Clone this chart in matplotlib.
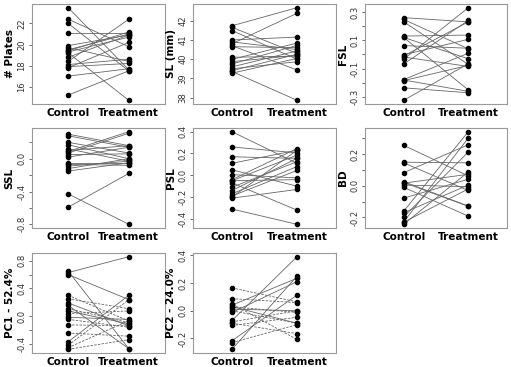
import matplotlib.pyplot as plt

plt.rcParams['axes.unicode_minus'] = False

# paired values, one entry per family: control -> treatment
plates_ctrl = [23.5, 22.4, 22.0, 21.1, 19.9, 19.7, 19.5, 19.3, 19.2, 18.8, 18.4, 18.1, 17.9, 17.8, 17.0, 15.2, 19.4]
plates_trt = [17.6, 19.8, 17.5, 21.1, 20.9, 18.4, 21.0, 20.7, 14.7, 20.9, 22.4, 18.6, 18.2, 20.2, 17.7, 17.5, 21.2]

sl_ctrl = [41.74, 41.66, 41.49, 41.0, 40.9, 40.8, 40.7, 40.65, 39.99, 39.87, 39.75, 39.6, 39.5, 39.4, 39.36, 39.27, 40.1]
sl_trt = [42.68, 40.3, 40.0, 41.15, 40.5, 42.39, 39.44, 40.6, 40.84, 40.2, 40.72, 40.43, 39.87, 40.26, 37.86, 40.04, 40.16]

fsl_ctrl = [0.26, 0.247, 0.23, 0.13, 0.12, 0.063, -0.002, -0.018, -0.033, -0.067, -0.177, -0.184, -0.18, -0.235, -0.323, 0.12, -0.01]
fsl_trt = [0.23, 0.04, -0.07, 0.137, -0.03, 0.044, 0.107, -0.084, 0.33, 0.24, 0.009, -0.077, -0.26, -0.27, -0.065, -0.25, 0.23]

ssl_ctrl = [0.30, 0.28, 0.20, 0.17, 0.12, 0.09, 0.07, 0.05, 0.02, -0.05, -0.07, -0.09, -0.12, -0.15, -0.43, -0.59, 0.10]
ssl_trt = [0.16, 0.14, 0.07, 0.0, -0.03, 0.33, 0.31, 0.06, 0.14, -0.05, -0.08, -0.03, 0.0, -0.05, -0.80, -0.18, 0.16]

psl_ctrl = [0.40, 0.26, 0.17, 0.11, 0.05, 0.006, -0.04, -0.05, -0.07, -0.11, -0.14, -0.17, -0.19, -0.21, -0.20, -0.31, -0.05]
psl_trt = [0.11, 0.206, 0.155, 0.23, -0.10, -0.024, 0.245, 0.185, -0.32, 0.125, 0.155, 0.08, 0.045, -0.13, 0.23, -0.45, -0.04]

bd_ctrl = [0.254, 0.148, 0.144, 0.082, 0.025, 0.016, 0.004, -0.01, -0.078, -0.16, -0.17, -0.196, -0.227, -0.243, -0.23, 0.02]
bd_trt = [0.062, 0.144, -0.03, 0.258, -0.128, 0.072, -0.006, -0.192, 0.041, 0.34, 0.004, 0.212, 0.30, 0.087, -0.02, -0.13]

pc1_ctrl = [0.63, 0.60, 0.65, 0.30, 0.25, 0.19, 0.155, 0.108, 0.075, 0.038, -0.018, -0.047, -0.127, -0.245, -0.37, -0.42, -0.456, -0.48]
pc1_trt = [0.86, 0.24, -0.47, -0.07, 0.108, -0.14, -0.47, -0.094, -0.113, 0.075, -0.047, -0.16, -0.14, -0.29, 0.30, 0.235, -0.066, -0.34]
pc1_group = ['a', 'a', 'a', 'b', 'b', 'a', 'a', 'b', 'a', 'b', 'a', 'b', 'b', 'b', 'a', 'b', 'b', 'b']

pc2_ctrl = [0.165, 0.087, 0.04, 0.028, 0.012, 0.0, -0.012, -0.07, -0.09, -0.106, -0.216, -0.23, -0.278, 0.05, 0.03, -0.08]
pc2_trt = [0.064, 0.059, 0.235, -0.012, 0.0, -0.09, 0.21, 0.39, -0.165, -0.047, 0.113, -0.10, 0.25, -0.207, -0.09, 0.0]
pc2_group = ['b', 'b', 'a', 'b', 'a', 'b', 'a', 'a', 'b', 'b', 'a', 'b', 'a', 'b', 'a', 'b']

panels = [
    ('# Plates', plates_ctrl, plates_trt, None, [16, 18, 20, 22], [16, 18, 20, 22]),
    ('SL (mm)', sl_ctrl, sl_trt, None, [38, 39, 40, 41, 42], [38, 39, 40, 41, 42]),
    ('FSL', fsl_ctrl, fsl_trt, None, [-0.3, -0.2, -0.1, 0.0, 0.1, 0.2, 0.3], [-0.3, -0.1, 0.1, 0.3]),
    ('SSL', ssl_ctrl, ssl_trt, None, [-0.8, -0.6, -0.4, -0.2, 0.0, 0.2], [-0.8, -0.4, 0.0]),
    ('PSL', psl_ctrl, psl_trt, None, [-0.4, -0.2, 0.0, 0.2, 0.4], [-0.4, -0.2, 0.0, 0.2, 0.4]),
    ('BD', bd_ctrl, bd_trt, None, [-0.2, -0.1, 0.0, 0.1, 0.2, 0.3], [-0.2, 0.0, 0.2]),
    ('PC1 - 52.4%', pc1_ctrl, pc1_trt, pc1_group, [-0.4, -0.2, 0.0, 0.2, 0.4, 0.6, 0.8], [-0.4, 0.0, 0.4, 0.8]),
    ('PC2 - 24.0%', pc2_ctrl, pc2_trt, pc2_group, [-0.2, 0.0, 0.2, 0.4], [-0.2, 0.0, 0.2, 0.4]),
]

W, H = 511, 367
col_px = [(32, 165), (193, 336), (365, 507)]
row_px = [(4, 104), (128, 228), (253, 353)]

fig = plt.figure(figsize=(W / 100, H / 100), dpi=100)

for i, (label, ctrl, trt, group, ticks, labelled) in enumerate(panels):
    l, r = col_px[i % 3]
    t, b = row_px[i // 3]
    ax = fig.add_axes([l / W, 1 - b / H, (r - l) / W, (b - t) / H])

    for j in range(len(ctrl)):
        if group is not None and group[j] == 'b':
            ax.plot([1, 2], [ctrl[j], trt[j]], color='#666666', lw=0.6, dashes=(3, 1.5))
        else:
            ax.plot([1, 2], [ctrl[j], trt[j]], color='#666666', lw=0.6)
    ax.plot([1] * len(ctrl), ctrl, 'o', color='black', ms=3.0, mec='black')
    ax.plot([2] * len(trt), trt, 'o', color='black', ms=3.0, mec='black')

    lo = min(min(ctrl), min(trt))
    hi = max(max(ctrl), max(trt))
    pad = (hi - lo) * 0.04
    ax.set_ylim(lo - pad, hi + pad)
    ax.set_xlim(0.4, 2.6)

    # integer ticks for plates / SL, one decimal elsewhere
    fmt = '%d' if isinstance(ticks[0], int) else '%.1f'
    ax.set_yticks(ticks)
    ax.set_yticklabels([fmt % v if v in labelled else '' for v in ticks])
    ax.tick_params(axis='y', labelsize=6, length=2.5, width=0.6, color='#555555',
                   labelcolor='#333333', pad=1.5, labelrotation=90)
    for lab in ax.get_yticklabels():
        lab.set_va('center')

    ax.set_xticks([1, 2])
    ax.set_xticklabels(['Control', 'Treatment'], fontweight='bold', fontsize=7.5)
    ax.tick_params(axis='x', length=0, pad=3)

    ax.set_ylabel(label, fontweight='bold', fontsize=7.5, labelpad=2)
    for s in ax.spines.values():
        s.set_color('#999999')
        s.set_linewidth(0.8)

plt.savefig('out.png', dpi=100)
